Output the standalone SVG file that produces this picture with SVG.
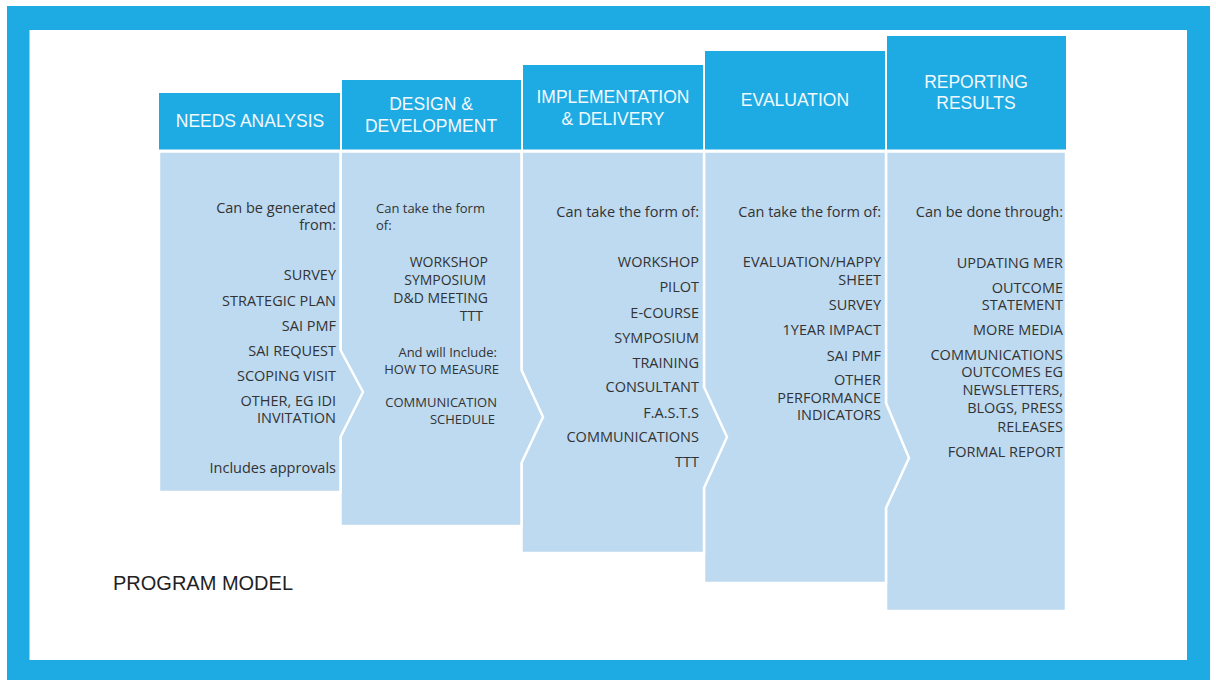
<svg xmlns="http://www.w3.org/2000/svg" width="1216" height="680" viewBox="0 0 1216 680">
<style>
.frame{fill:#1EABE3}
.hdr{fill:#1EABE3}
.body{fill:#BDDAF1;stroke:#FFFFFF;stroke-width:2.5;stroke-linejoin:miter}
.ht{font-family:"Liberation Sans",Arial,sans-serif;font-size:17.5px;fill:#F2F9FD;text-anchor:middle}
.bt{font-family:"Open Sans","Noto Sans",sans-serif;font-size:14.5px;fill:#333333;text-anchor:end}
.b2{font-family:"Open Sans","Noto Sans",sans-serif;font-size:14px;fill:#333333;text-anchor:end}
.b3{font-family:"Open Sans","Noto Sans",sans-serif;font-size:13px;fill:#333333;text-anchor:end}
.bl{font-family:"Open Sans","Noto Sans",sans-serif;font-size:13px;fill:#333333}
.title{font-family:"Liberation Sans",Arial,sans-serif;font-size:20px;fill:#222222}
</style>
<rect class="frame" x="7" y="6" width="1203" height="674"/>
<rect x="29.5" y="30" width="1157.5" height="630" fill="#FFFFFF"/>

<g id="connectors"/>

<g id="node-reporting">
<rect class="hdr" x="887" y="36" width="179" height="113.5"/>
<polygon class="body" points="886,151.5 1066,151.5 1066,611 886,611"/>
<text class="ht" x="976" y="88">REPORTING</text>
<text class="ht" x="976" y="109">RESULTS</text>
<text class="bt" x="1063" y="217">Can be done through:</text>
<text class="bt" x="1063" y="268">UPDATING MER</text>
<text class="bt" x="1063" y="293">OUTCOME</text>
<text class="bt" x="1063" y="310">STATEMENT</text>
<text class="bt" x="1063" y="335">MORE MEDIA</text>
<text class="bt" x="1063" y="360">COMMUNICATIONS</text>
<text class="bt" x="1063" y="377">OUTCOMES EG</text>
<text class="bt" x="1063" y="395">NEWSLETTERS,</text>
<text class="bt" x="1063" y="413">BLOGS, PRESS</text>
<text class="bt" x="1063" y="432">RELEASES</text>
<text class="bt" x="1063" y="457">FORMAL REPORT</text>
</g>

<g id="node-evaluation">
<rect class="hdr" x="705" y="51" width="180" height="98.5"/>
<polygon class="body" points="704,151.5 886,151.5 886,403 909,458 886,508 886,583 704,583"/>
<text class="ht" x="795" y="106">EVALUATION</text>
<text class="bt" x="881" y="217">Can take the form of:</text>
<text class="bt" x="881" y="267">EVALUATION/HAPPY</text>
<text class="bt" x="881" y="285">SHEET</text>
<text class="bt" x="881" y="310">SURVEY</text>
<text class="bt" x="881" y="335">1YEAR IMPACT</text>
<text class="bt" x="881" y="361">SAI PMF</text>
<text class="bt" x="881" y="385">OTHER</text>
<text class="bt" x="881" y="403">PERFORMANCE</text>
<text class="bt" x="881" y="420">INDICATORS</text>
</g>

<g id="node-implementation">
<rect class="hdr" x="523" y="65" width="180" height="84.5"/>
<polygon class="body" points="521.5,151.5 704,151.5 704,387 727,437 704,488 704,553 521.5,553"/>
<text class="ht" x="613" y="103">IMPLEMENTATION</text>
<text class="ht" x="613" y="125">&amp; DELIVERY</text>
<text class="bt" x="699" y="217">Can take the form of:</text>
<text class="bt" x="699" y="267">WORKSHOP</text>
<text class="bt" x="699" y="292">PILOT</text>
<text class="bt" x="699" y="318">E-COURSE</text>
<text class="bt" x="699" y="343">SYMPOSIUM</text>
<text class="bt" x="699" y="368">TRAINING</text>
<text class="bt" x="699" y="392">CONSULTANT</text>
<text class="bt" x="699" y="418">F.A.S.T.S</text>
<text class="bt" x="699" y="442">COMMUNICATIONS</text>
<text class="bt" x="699" y="467">TTT</text>
</g>

<g id="node-design">
<rect class="hdr" x="342" y="80" width="179" height="69.5"/>
<polygon class="body" points="340.5,151.5 521.5,151.5 521.5,370 543,417 521.5,463 521.5,526 340.5,526"/>
<text class="ht" x="431" y="110">DESIGN &amp;</text>
<text class="ht" x="431" y="132">DEVELOPMENT</text>
<text class="bl" x="376" y="213">Can take the form</text>
<text class="bl" x="376" y="230">of:</text>
<text class="b2" x="488" y="267">WORKSHOP</text>
<text class="b2" x="486" y="285">SYMPOSIUM</text>
<text class="b2" x="488" y="303">D&amp;D MEETING</text>
<text class="b2" x="483" y="321">TTT</text>
<text class="b3" x="497" y="357">And will Include:</text>
<text class="b3" x="499" y="374">HOW TO MEASURE</text>
<text class="b3" x="497" y="407">COMMUNICATION</text>
<text class="b3" x="495" y="424">SCHEDULE</text>
</g>

<g id="node-needs">
<rect class="hdr" x="159" y="93" width="181" height="56.5"/>
<polygon class="body" points="159,151.5 340.5,151.5 340.5,350 363,392 340.5,437 340.5,492 159,492"/>
<text class="ht" x="250" y="127">NEEDS ANALYSIS</text>
<text class="bt" x="336" y="213">Can be generated</text>
<text class="bt" x="336" y="230">from:</text>
<text class="bt" x="336" y="280">SURVEY</text>
<text class="bt" x="336" y="306">STRATEGIC PLAN</text>
<text class="bt" x="336" y="331">SAI PMF</text>
<text class="bt" x="336" y="356">SAI REQUEST</text>
<text class="bt" x="336" y="381">SCOPING VISIT</text>
<text class="bt" x="336" y="406">OTHER, EG IDI</text>
<text class="bt" x="336" y="423">INVITATION</text>
<text class="bt" x="336" y="473">Includes approvals</text>
</g>

<text class="title" x="113" y="590">PROGRAM MODEL</text>
</svg>
